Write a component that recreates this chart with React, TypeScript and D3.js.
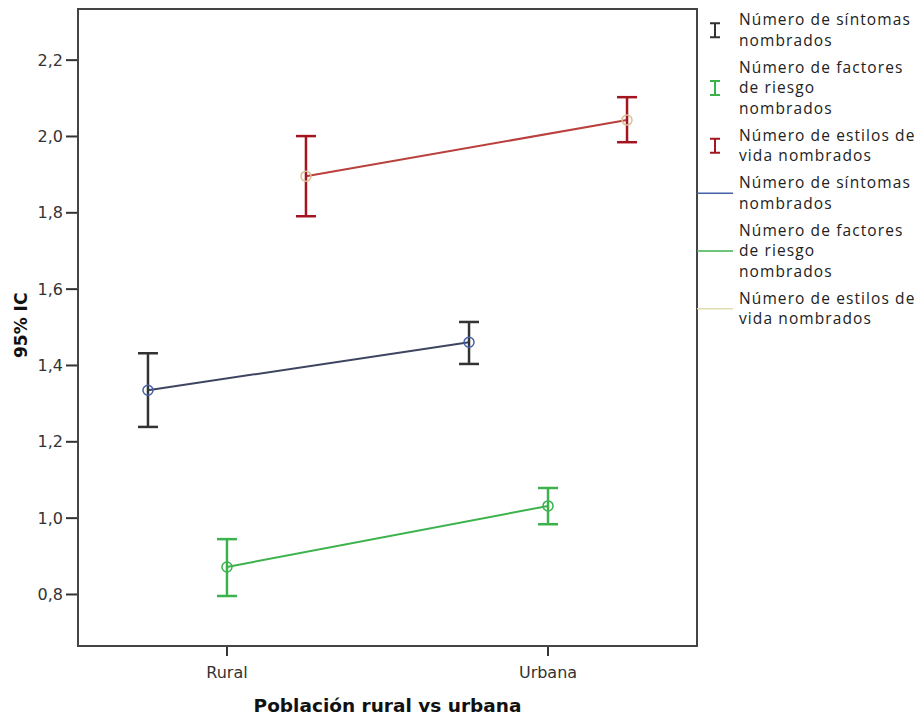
import React from 'react'
import * as d3 from 'd3'

const categories = ['Rural', 'Urbana']
const seriesKeys = ['sintomas', 'factores', 'estilos']

// mean, lower and upper bound of the 95% CI per category
const sintomasMean = [1.335, 1.461]
const sintomasLow = [1.239, 1.404]
const sintomasHigh = [1.432, 1.514]

const factoresMean = [0.872, 1.032]
const factoresLow = [0.796, 0.984]
const factoresHigh = [0.945, 1.079]

const estilosMean = [1.896, 2.043]
const estilosLow = [1.791, 1.985]
const estilosHigh = [2.001, 2.103]

const yTicks = [0.8, 1.0, 1.2, 1.4, 1.6, 1.8, 2.0, 2.2]

const legendBars = [
    { lines: ['Número de síntomas', 'nombrados'], color: '#333333' },
    { lines: ['Número de factores', 'de riesgo', 'nombrados'], color: '#3cb24c' },
    { lines: ['Número de estilos de', 'vida nombrados'], color: '#a3161f' },
]
const legendLines = [
    { lines: ['Número de síntomas', 'nombrados'], color: '#4560a8' },
    { lines: ['Número de factores', 'de riesgo', 'nombrados'], color: '#3cb24c' },
    { lines: ['Número de estilos de', 'vida nombrados'], color: '#e2dcb0' },
]

const series = [
    { key: 'sintomas', mean: sintomasMean, low: sintomasLow, high: sintomasHigh, bar: '#333333', line: '#3e4560', marker: '#4560a8' },
    { key: 'factores', mean: factoresMean, low: factoresLow, high: factoresHigh, bar: '#3cb24c', line: '#3cb24c', marker: '#3cb24c' },
    { key: 'estilos', mean: estilosMean, low: estilosLow, high: estilosHigh, bar: '#a3161f', line: '#b9403c', marker: '#d9bf95' },
]

const App: React.FC = () => {
    const width = 921
    const height = 716
    const plot = { left: 78, right: 697, top: 9, bottom: 646 }

    const x = d3.scalePoint<string>()
        .domain(categories)
        .range([plot.left, plot.right])
        .padding(0.464)

    const offset = d3.scalePoint<string>()
        .domain(seriesKeys)
        .range([-79, 79])

    const y = d3.scaleLinear()
        .domain([0.665, 2.334])
        .range([plot.bottom, plot.top])

    const line = d3.line<number>()
        .x((_, i) => x(categories[i]) as number)
        .y(d => y(d))

    const tickFont = 'DejaVu Sans, Verdana, sans-serif'
    const legendFont = 'Open Sans, sans-serif'
    const lineH = 20.5
    const gap = 6.5

    // legend layout: stack items one under the other
    const allLegend = [
        ...legendBars.map(d => ({ ...d, kind: 'bar' })),
        ...legendLines.map(d => ({ ...d, kind: 'line' })),
    ]
    let cursor = 20
    const legendItems = allLegend.map(d => {
        const start = cursor
        cursor += d.lines.length * lineH + gap
        return { ...d, start, mid: start + ((d.lines.length - 1) * lineH) / 2 }
    })

    return (
        <svg width={width} height={height} style={{ position: 'absolute', left: 0, top: 0, background: '#fff' }}>
            <rect x={0} y={0} width={width} height={height} fill="#fff" />

            {/* y ticks */}
            {yTicks.map(t => (
                <g key={t}>
                    <line x1={plot.left - 12} x2={plot.left} y1={y(t)} y2={y(t)} stroke="#333" strokeWidth={2} />
                    <text x={plot.left - 15} y={y(t)} dy="0.35em" textAnchor="end" fontSize={16} fill="#333" fontFamily={tickFont}>
                        {t.toFixed(1).replace('.', ',')}
                    </text>
                </g>
            ))}

            {/* x ticks */}
            {categories.map(c => (
                <g key={c}>
                    <line x1={x(c)} x2={x(c)} y1={plot.bottom} y2={plot.bottom + 10} stroke="#333" strokeWidth={2} />
                    <text x={x(c)} y={plot.bottom + 26} dy="0.35em" textAnchor="middle" fontSize={16} fill="#333" fontFamily={tickFont}>
                        {c}
                    </text>
                </g>
            ))}

            {/* series */}
            {series.map(s => {
                const dx = offset(s.key) as number
                return (
                    <g key={s.key} transform={`translate(${dx},0)`}>
                        <path d={line(s.mean) as string} fill="none" stroke={s.line} strokeWidth={2} />
                        {categories.map((c, i) => {
                            const cx = x(c) as number
                            return (
                                <g key={c}>
                                    <line x1={cx} x2={cx} y1={y(s.low[i])} y2={y(s.high[i])} stroke={s.bar} strokeWidth={2.5} />
                                    <line x1={cx - 10} x2={cx + 10} y1={y(s.low[i])} y2={y(s.low[i])} stroke={s.bar} strokeWidth={2.5} />
                                    <line x1={cx - 10} x2={cx + 10} y1={y(s.high[i])} y2={y(s.high[i])} stroke={s.bar} strokeWidth={2.5} />
                                    <circle cx={cx} cy={y(s.mean[i])} r={5} fill="none" stroke={s.marker} strokeWidth={1.5} />
                                </g>
                            )
                        })}
                    </g>
                )
            })}

            {/* plot frame */}
            <rect x={plot.left} y={plot.top} width={plot.right - plot.left} height={plot.bottom - plot.top} fill="none" stroke="#444" strokeWidth={2} />

            {/* axis titles */}
            <text transform={`translate(21,${(y(1.6) + y(1.4)) / 2 - 2}) rotate(-90)`} textAnchor="middle" dy="0.35em" fontSize={17} fontWeight="bold" fill="#111" fontFamily={tickFont}>
                95% IC
            </text>
            <text x={(plot.left + plot.right) / 2} y={712} textAnchor="middle" fontSize={18.5} fontWeight="bold" fill="#111" fontFamily={tickFont}>
                Población rural vs urbana
            </text>

            {/* legend */}
            {legendItems.map((d, i) => (
                <g key={i}>
                    {d.kind === 'bar' ? (
                        <g stroke={d.color} strokeWidth={2}>
                            <line x1={715} x2={715} y1={d.mid - 7} y2={d.mid + 7} />
                            <line x1={710} x2={720} y1={d.mid - 7} y2={d.mid - 7} />
                            <line x1={710} x2={720} y1={d.mid + 7} y2={d.mid + 7} />
                        </g>
                    ) : (
                        <line x1={plot.right} x2={733} y1={d.mid} y2={d.mid} stroke={d.color} strokeWidth={1.5} />
                    )}
                    {d.lines.map((t, j) => (
                        <text key={j} x={739} y={d.start + j * lineH} dy="0.35em" fontSize={15.5} letterSpacing={1.1} fill="#222" fontFamily={legendFont}>
                            {t}
                        </text>
                    ))}
                </g>
            ))}
        </svg>
    )
}

export default App
